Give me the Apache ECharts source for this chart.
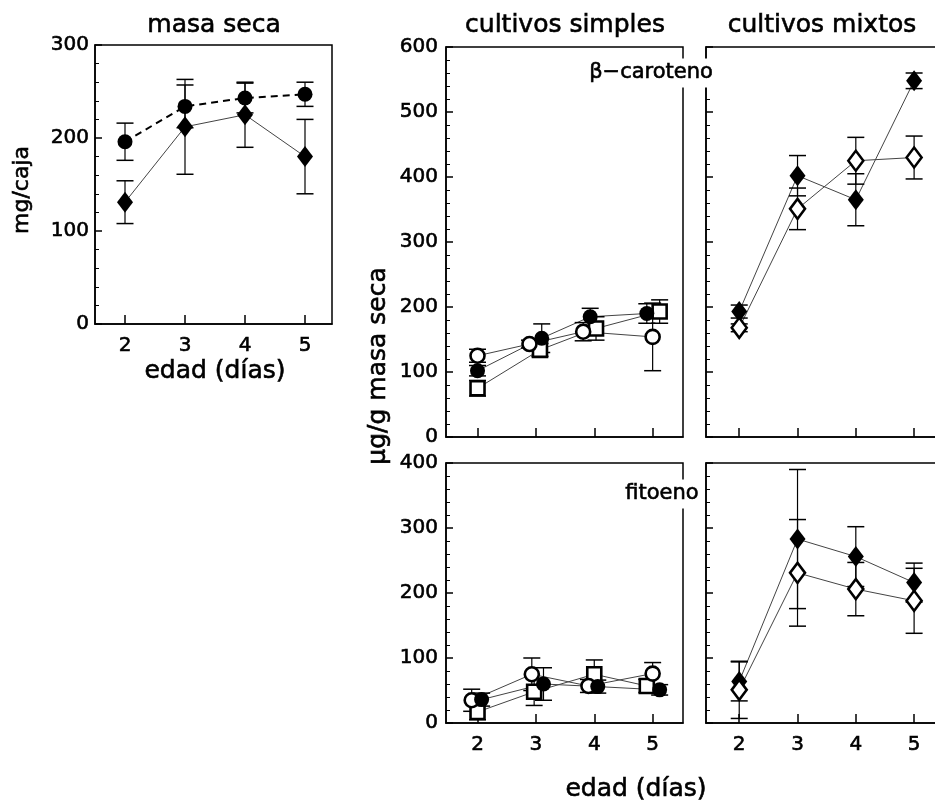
<!DOCTYPE html>
<html><head><meta charset="utf-8">
<script src="https://cdn.jsdelivr.net/npm/echarts@6/dist/echarts.min.js"></script>
<style>html,body{margin:0;padding:0;background:#fff}#c{width:935px;height:804px}</style>
</head><body><div id="c"></div>
<script>
// ---------- DATA ----------
const days = [2, 3, 4, 5];
const xTickValues = [2, 3, 4, 5];

// masa seca (mg/caja)
const masaCircle = [196, 234, 243, 247];
const masaCircleErr = [20, 23, 16, 13];
const masaDiamond = [131, 212, 225, 180];
const masaDiamondErr = [23, 51, 35, 40];

// β-caroteno, cultivos simples
const betaSimFilled = [102, 152, 185, 190];
const betaSimFilledErr = [8, 22, 13, 15];
const betaSimOpen = [125, 143, 162, 154];
const betaSimOpenErr = [10, 6, 14, 52];
const betaSimSquare = [75, 134, 167, 193];
const betaSimSquareErr = [12, 10, 18, 18];

// β-caroteno, cultivos mixtos
const betaMixFilled = [193, 402, 365, 548];
const betaMixFilledErr = [10, 31, 40, 12];
const betaMixOpen = [168, 351, 425, 430];
const betaMixOpenErr = [6, 32, 36, 33];

// fitoeno, cultivos simples
const fitSimFilled = [36, 60, 56, 51];
const fitSimFilledErr = [10, 25, 10, 8];
const fitSimOpen = [35, 75, 57, 76];
const fitSimOpenErr = [17, 25, 10, 17];
const fitSimSquare = [17, 48, 75, 57];
const fitSimSquareErr = [12, 21, 22, 10];

// fitoeno, cultivos mixtos
const fitMixFilled = [64, 283, 256, 216];
const fitMixFilledErr = [30, 107, 46, 30];
const fitMixOpen = [51, 231, 206, 188];
const fitMixOpenErr = [44, 82, 41, 50];

// ---------- STYLE / LAYOUT ----------
const FONT = 'DejaVu Sans';
const chart = echarts.init(document.getElementById('c'), null, {renderer: 'canvas'});

const grids = [
  {left: 95, top: 45, width: 237, height: 279},
  {left: 446, top: 47, width: 237, height: 390},
  {left: 706, top: 47, width: 239, height: 390},
  {left: 446, top: 463, width: 237, height: 260},
  {left: 706, top: 463, width: 239, height: 260}
].map(g => Object.assign(g, {show: true, borderColor: '#000', borderWidth: 1.5, containLabel: false, outerBoundsMode: 'none', backgroundColor: 'transparent'}));

const xRanges = [[1.5, 5.45], [1.46, 5.52], [1.43, 5.53], [1.46, 5.52], [1.43, 5.53]];
const xLabelShow = [true, false, false, true, true];
const yMax = [300, 600, 600, 400, 400];
const yLabelShow = [true, true, false, true, false];
const yLabelMargin = [6, 8, 8, 8, 8];

const labelStyle = {color: '#000', fontFamily: FONT, fontSize: 20, textBorderColor: '#000', textBorderWidth: 0.6};

const xAxes = xRanges.map((r, i) => ({
  type: 'value', gridIndex: i, min: r[0], max: r[1],
  axisLine: {show: true, lineStyle: {color: '#000', width: 1.5}},
  axisTick: {show: true, inside: true, length: 9, customValues: xTickValues, lineStyle: {color: '#000', width: 1.5}},
  axisLabel: Object.assign({show: xLabelShow[i], customValues: xTickValues, margin: 12}, labelStyle),
  splitLine: {show: false}
}));

const yAxes = yMax.map((m, i) => ({
  type: 'value', gridIndex: i, min: 0, max: m, interval: 100,
  axisLine: {show: true, lineStyle: {color: '#000', width: 1.5}},
  axisTick: {show: true, inside: true, length: 7, lineStyle: {color: '#000', width: 1.5}},
  minorTick: {show: true, splitNumber: 5, length: 4, lineStyle: {color: '#000', width: 1}},
  axisLabel: Object.assign({show: yLabelShow[i], margin: yLabelMargin[i]}, labelStyle),
  splitLine: {show: false}, minorSplitLine: {show: false}
}));

function errRender(params, api) {
  const x = api.value(0), y = api.value(1), e = api.value(2);
  const t = api.coord([x, y + e]), b = api.coord([x, y - e]);
  const hw = 8.5;
  return {type: 'group', children: [
    {type: 'line', shape: {x1: t[0], y1: t[1], x2: b[0], y2: b[1]}, style: {stroke: '#000', lineWidth: 1.2}},
    {type: 'line', shape: {x1: t[0] - hw, y1: t[1], x2: t[0] + hw, y2: t[1]}, style: {stroke: '#000', lineWidth: 1.5}},
    {type: 'line', shape: {x1: b[0] - hw, y1: b[1], x2: b[0] + hw, y2: b[1]}, style: {stroke: '#000', lineWidth: 1.5}}
  ]};
}

const SYM = {
  fCircle: {symbol: 'circle', size: 15, item: {color: '#000', opacity: 1}},
  oCircle: {symbol: 'circle', size: 14, item: {color: '#fff', borderColor: '#000', borderWidth: 2.6, opacity: 1}},
  oSquare: {symbol: 'rect', size: 14, item: {color: '#fff', borderColor: '#000', borderWidth: 2.6, opacity: 1}},
  fDiamond: {symbol: 'diamond', size: [16, 21], item: {color: '#000', opacity: 1}},
  oDiamond: {symbol: 'diamond', size: [15, 20], item: {color: '#fff', borderColor: '#000', borderWidth: 2.6, opacity: 1}}
};
const thinLine = {color: '#444', width: 1};
const dashLine = {color: '#000', width: 2, type: [7, 5]};

const series = [];
function add(gi, vals, errs, sym, lineStyle, offs) {
  const pts = days.map((d, i) => [d + (offs ? offs[i] : 0), vals[i], errs[i]]);
  series.push({type: 'line', xAxisIndex: gi, yAxisIndex: gi, data: pts.map(p => [p[0], p[1]]),
    showSymbol: false, symbol: 'none', lineStyle: lineStyle, z: 2, silent: true});
  series.push({type: 'custom', xAxisIndex: gi, yAxisIndex: gi, data: pts, renderItem: errRender,
    encode: {x: 0, y: 1}, z: 3, clip: false, silent: true});
  series.push({type: 'scatter', xAxisIndex: gi, yAxisIndex: gi, data: pts.map(p => [p[0], p[1]]),
    symbol: sym.symbol, symbolSize: sym.size, itemStyle: sym.item, z: 4, silent: true});
}

// masa seca
add(0, masaDiamond, masaDiamondErr, SYM.fDiamond, thinLine);
add(0, masaCircle, masaCircleErr, SYM.fCircle, dashLine);
// β-caroteno simples
add(1, betaSimSquare, betaSimSquareErr, SYM.oSquare, thinLine, [0, 0.07, 0.03, 0.12]);
add(1, betaSimOpen, betaSimOpenErr, SYM.oCircle, thinLine, [0, -0.11, -0.19, 0]);
add(1, betaSimFilled, betaSimFilledErr, SYM.fCircle, thinLine, [0, 0.1, -0.07, -0.1]);
// β-caroteno mixtos
add(2, betaMixFilled, betaMixFilledErr, SYM.fDiamond, thinLine);
add(2, betaMixOpen, betaMixOpenErr, SYM.oDiamond, thinLine);
// fitoeno simples
add(3, fitSimSquare, fitSimSquareErr, SYM.oSquare, thinLine, [0, -0.03, 0, -0.1]);
add(3, fitSimOpen, fitSimOpenErr, SYM.oCircle, thinLine, [-0.1, -0.07, -0.1, 0]);
add(3, fitSimFilled, fitSimFilledErr, SYM.fCircle, thinLine, [0.07, 0.13, 0.06, 0.12]);
// fitoeno mixtos
add(4, fitMixFilled, fitMixFilledErr, SYM.fDiamond, thinLine);
add(4, fitMixOpen, fitMixOpenErr, SYM.oDiamond, thinLine);

function txt(s, x, y, size, opts) {
  return Object.assign({type: 'text', x: x, y: y, z: 100,
    style: Object.assign({text: s, x: 0, y: 0, align: 'center', verticalAlign: 'middle',
      fill: '#000', stroke: '#000', lineWidth: 0.6, font: size + 'px "' + FONT + '"'}, (opts && opts.style) || {})},
    (opts && opts.el) || {});
}

const graphic = [
  txt('masa seca', 214, 25, 25),
  txt('cultivos simples', 565, 25, 25),
  txt('cultivos mixtos', 822, 25, 25),
  txt('mg/caja', 22, 190, 22, {el: {rotation: Math.PI / 2}}),
  txt('µg/g masa seca', 378, 366, 25, {el: {rotation: Math.PI / 2}}),
  txt('edad (días)', 215, 371, 25),
  txt('edad (días)', 636, 789, 25),
  txt('β−caroteno', 651, 73, 21, {style: {backgroundColor: '#fff', padding: [4, 2, 4, 2]}}),
  txt('fitoeno', 662, 494, 21, {style: {backgroundColor: '#fff', padding: [4, 2, 4, 2]}})
];

chart.setOption({
  animation: false,
  backgroundColor: '#fff',
  grid: grids,
  xAxis: xAxes,
  yAxis: yAxes,
  series: series,
  graphic: graphic
});
</script>
</body></html>
